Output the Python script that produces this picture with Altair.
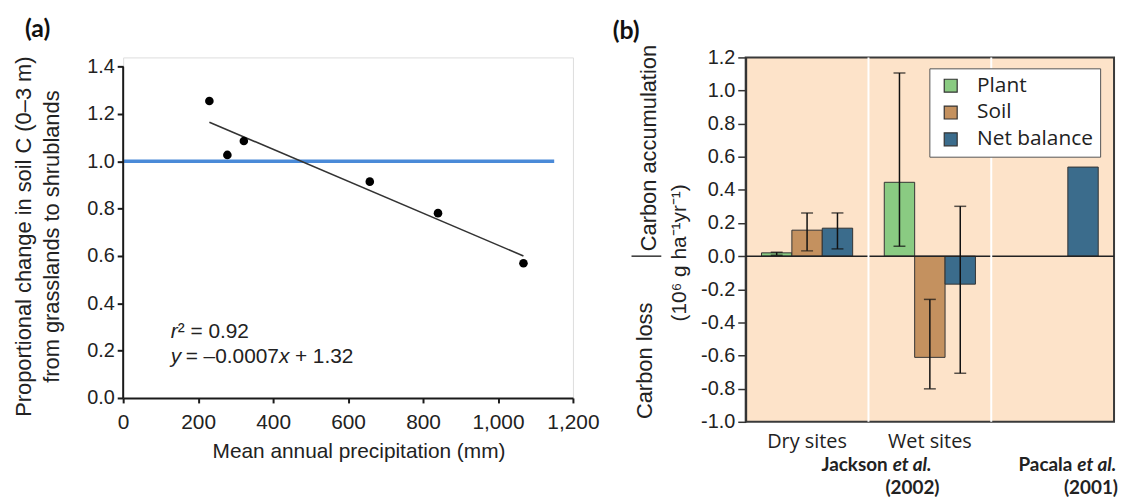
import altair as alt
import pandas as pd

FONT = "Liberation Sans"
HUM = "Open Sans"
BOLD = "Lato"

# ---------------- Panel (a) data ----------------
precip_mm = [230, 278, 322, 658, 840, 1068]
soil_c_change = [1.255, 1.027, 1.086, 0.914, 0.781, 0.569]
reference_x = [0, 1150]
reference_y = [1.0, 1.0]
fit_extent = [230, 1068]
a_x_ticks = [0, 200, 400, 600, 800, 1000, 1200]
a_y_ticks = [0.0, 0.2, 0.4, 0.6, 0.8, 1.0, 1.2, 1.4]

# ---------------- Panel (b) data ----------------
site_order = ["Dry sites", "Wet sites", "Pacala"]
comp_order = ["Plant", "Soil", "Net balance"]
comp_colors = ["#8acb82", "#c4915f", "#3b6c8c"]
bar_site = ["Dry sites", "Dry sites", "Dry sites", "Wet sites", "Wet sites", "Wet sites", "Pacala"]
bar_comp = ["Plant", "Soil", "Net balance", "Plant", "Soil", "Net balance", "Net balance"]
bar_value = [0.02, 0.157, 0.169, 0.446, -0.611, -0.169, 0.538]
err_low = [0.006, 0.032, 0.044, 0.06, -0.801, -0.707, None]
err_high = [0.024, 0.261, 0.261, 1.106, -0.261, 0.301, None]
separator_sites = ["Wet sites", "Pacala"]
b_y_ticks = [-1.0, -0.8, -0.6, -0.4, -0.2, 0.0, 0.2, 0.4, 0.6, 0.8, 1.0, 1.2]

one = pd.DataFrame({"k": [0]})
NB = "\u00a0"

# ================= Panel (a) =================
df_pts = pd.DataFrame({"precip": precip_mm, "change": soil_c_change})
df_ref = pd.DataFrame({"precip": reference_x, "change": reference_y})

xs_a = alt.Scale(domain=[0, 1200], nice=False)
ys_a = alt.Scale(domain=[0, 1.439], nice=False)

ax_x_a = alt.Axis(values=a_x_ticks, format=",d", title="Mean annual precipitation (mm)", grid=False,
                  labelFlush=False, labelOverlap=False, domainColor="#1a1a1a", domainWidth=2,
                  tickColor="#1a1a1a", tickWidth=2, tickSize=5, labelPadding=9,
                  labelFont=FONT, labelFontSize=21, labelColor="#222",
                  titleFont=FONT, titleFontSize=21, titleFontWeight="normal", titleColor="#222",
                  titlePadding=8, titleX=237)
ax_y_a = alt.Axis(values=a_y_ticks, format=".1f", grid=False, domain=False, labelOverlap=False,
                  tickColor="#1a1a1a", tickWidth=2, tickSize=6, labelPadding=3,
                  labelFont=FONT, labelFontSize=20, labelColor="#222",
                  title=["Proportional change in soil C (0\u20133 m)", "from grasslands to shrublands"],
                  titleFont=FONT, titleFontSize=22, titleFontWeight="normal", titleColor="#222",
                  titleX=-100, titleY=180, titleBaseline="middle", titleAlign="center",
                  titleAngle=270, titleLineHeight=28)

ref_line = alt.Chart(df_ref).mark_line(color="#4a8ad8", strokeWidth=3.5).encode(
    x=alt.X("precip:Q", scale=xs_a, axis=ax_x_a),
    y=alt.Y("change:Q", scale=ys_a, axis=ax_y_a),
)
fit_line = alt.Chart(df_pts).transform_regression("precip", "change", extent=fit_extent).mark_line(
    color="#333", strokeWidth=1.6).encode(
    x=alt.X("precip:Q", scale=xs_a), y=alt.Y("change:Q", scale=ys_a))
pts = alt.Chart(df_pts).mark_circle(size=75, color="#000", opacity=1).encode(
    x=alt.X("precip:Q", scale=xs_a), y=alt.Y("change:Q", scale=ys_a))
y_axis_line = alt.Chart(one).mark_rule(color="#1a1a1a", strokeWidth=2).encode(
    x=alt.datum(0), y=alt.datum(0.0), y2=alt.datum(1.4))


def a_text(txt, xv, yv, dx=0, italic=False, size=21):
    return alt.Chart(one).mark_text(text=txt, align="left", baseline="middle", dx=dx, font=FONT,
                                    fontSize=size, fontStyle="italic" if italic else "normal",
                                    color="#222").encode(x=alt.datum(xv), y=alt.datum(yv))


ann = [
    a_text("r", 127, 0.28, 0, True),
    a_text("\u00b2" + NB + "=" + NB + "0.92", 127, 0.28, 7),
    a_text("y", 127, 0.175, 0, True),
    a_text("=" + NB + "\u20130.0007", 127, 0.175, 15),
    a_text("x", 127, 0.175, 109, True),
    a_text("+" + NB + "1.32", 127, 0.175, 125),
]
label_a = alt.Chart(one).mark_text(text="(a)", align="left", baseline="middle", font=BOLD,
                                   fontWeight="bold", fontSize=25, color="#111").encode(
    x=alt.value(-99), y=alt.value(-29))

panel_a = alt.layer(ref_line, fit_line, pts, y_axis_line, *ann, label_a).properties(width=453, height=343)

# ================= Panel (b) =================
df_b = pd.DataFrame({"site": bar_site, "component": bar_comp, "value": bar_value,
                     "lo": err_low, "hi": err_high})
df_err = df_b.dropna(subset=["lo", "hi"])
df_sep = pd.DataFrame({"site": separator_sites})

xsc_b = alt.Scale(domain=site_order, paddingInner=0, paddingOuter=0)
xoff_sc = alt.Scale(domain=comp_order, paddingInner=0, paddingOuter=0.52)
ysc_b = alt.Scale(domain=[-1.0, 1.2], nice=False)

ax_x_b = alt.Axis(title=None, domain=False, ticks=False, labelAngle=0, labelFont=HUM,
                  labelFontSize=20, labelColor="#222", labelPadding=10,
                  labelExpr="datum.value == 'Pacala' ? '' : datum.value")
ax_y_b = alt.Axis(values=b_y_ticks, title=None, grid=False, domainColor="#333", domainWidth=2,
                  tickColor="#333", tickWidth=1.5, tickSize=8, labelPadding=3, labelOverlap=False,
                  labelSeparation=0, labelFont=FONT, labelFontSize=20, labelColor="#222",
                  format=".1f",
                  labelExpr="replace(datum.label, '\u2212', '-')")

bars = alt.Chart(df_b).mark_bar(stroke="#333", strokeWidth=1).encode(
    x=alt.X("site:N", scale=xsc_b, axis=ax_x_b),
    xOffset=alt.XOffset("component:N", scale=xoff_sc),
    y=alt.Y("value:Q", scale=ysc_b, axis=ax_y_b),
    color=alt.Color("component:N", scale=alt.Scale(domain=comp_order, range=comp_colors),
                    legend=alt.Legend(title=None, orient="none", legendX=812, legendY=11,
                                      fillColor="white", strokeColor="#555", padding=7,
                                      symbolType="square", symbolSize=170,
                                      symbolStrokeColor="#333", symbolStrokeWidth=1.2,
                                      symbolOpacity=1, labelFont=HUM, labelFontSize=21,
                                      labelColor="#222", labelOffset=16, rowPadding=5,
                                      symbolOffset=4)),
)
zero_line = alt.Chart(one).mark_rule(color="#222", strokeWidth=1.5).encode(
    y=alt.Y(datum=0.0, scale=ysc_b, axis=ax_y_b))
seps = alt.Chart(df_sep).mark_rule(color="white", strokeWidth=2).encode(
    x=alt.X("site:N", scale=xsc_b, bandPosition=0, axis=ax_x_b))
err_rule = alt.Chart(df_err).mark_rule(color="#111", strokeWidth=1.5).encode(
    x=alt.X("site:N", scale=xsc_b, axis=ax_x_b), xOffset=alt.XOffset("component:N", scale=xoff_sc),
    y=alt.Y("lo:Q", scale=ysc_b, axis=ax_y_b), y2="hi:Q")
cap_lo = alt.Chart(df_err).mark_tick(color="#111", size=12, thickness=1.5).encode(
    x=alt.X("site:N", scale=xsc_b, axis=ax_x_b), xOffset=alt.XOffset("component:N", scale=xoff_sc),
    y=alt.Y("lo:Q", scale=ysc_b, axis=ax_y_b))
cap_hi = alt.Chart(df_err).mark_tick(color="#111", size=12, thickness=1.5).encode(
    x=alt.X("site:N", scale=xsc_b, axis=ax_x_b), xOffset=alt.XOffset("component:N", scale=xoff_sc),
    y=alt.Y("hi:Q", scale=ysc_b, axis=ax_y_b))


def b_text(txt, x, y, align="left", angle=0, size=22, weight="normal", style="normal", font=FONT,
           baseline="middle"):
    kw = dict(text=txt, align=align, baseline=baseline, font=font, fontSize=size,
              fontWeight=weight, fontStyle=style, color="#222")
    if angle:
        kw["angle"] = angle
    return alt.Chart(one).mark_text(**kw).encode(x=x, y=y)


ytitles = [
    b_text("Carbon accumulation", alt.value(-97), alt.Y(datum=0.03, scale=ysc_b, axis=ax_y_b),
           align="left", angle=270),
    b_text("Carbon loss", alt.value(-101), alt.Y(datum=-0.28, scale=ysc_b, axis=ax_y_b),
           align="right", angle=270),
    b_text("(10\u2076 g ha\u207b\u00b9yr\u207b\u00b9)", alt.value(-66),
           alt.Y(datum=0.02, scale=ysc_b, axis=ax_y_b), align="center", angle=270, size=21),
]
ytitle_bar = alt.Chart(one).mark_rule(color="#333", strokeWidth=1.5).encode(
    x=alt.value(-115), x2=alt.value(-85), y=alt.Y(datum=0.0, scale=ysc_b, axis=ax_y_b))

cites = [
    b_text("Jackson", alt.value(143), alt.value(411), align="right", size=19, weight="bold", font=BOLD),
    b_text("et al.", alt.value(148), alt.value(411), align="left", size=19, weight="bold",
           style="italic", font=BOLD),
    b_text("(2002)", alt.value(168), alt.value(434), align="center", size=19, weight="bold", font=BOLD),
    b_text("Pacala", alt.value(329), alt.value(411), align="right", size=19, weight="bold", font=BOLD),
    b_text("et al.", alt.value(334), alt.value(411), align="left", size=19, weight="bold",
           style="italic", font=BOLD),
    b_text("(2001)", alt.value(375), alt.value(434), align="right", size=19, weight="bold", font=BOLD),
]
label_b = alt.Chart(one).mark_text(text="(b)", align="left", baseline="middle", font=BOLD,
                                   fontWeight="bold", fontSize=25, color="#111").encode(
    x=alt.value(-134), y=alt.value(-27))

panel_b = alt.layer(bars, zero_line, seps, err_rule, cap_lo, cap_hi, *ytitles, ytitle_bar, *cites,
                    label_b).properties(
    width=371, height=367,
    view=alt.ViewBackground(fill="#fde3c9", stroke="#3a3a3a", strokeWidth=2))

chart = alt.hconcat(panel_a, panel_b, spacing=12).properties(
    padding={"left": 4, "top": 6, "right": 0, "bottom": 0}
).configure_view(stroke="transparent").configure_axis(labelOverlap=False).configure(background="white")

chart.save("out.html", embed_options={"renderer": "svg", "actions": False})
